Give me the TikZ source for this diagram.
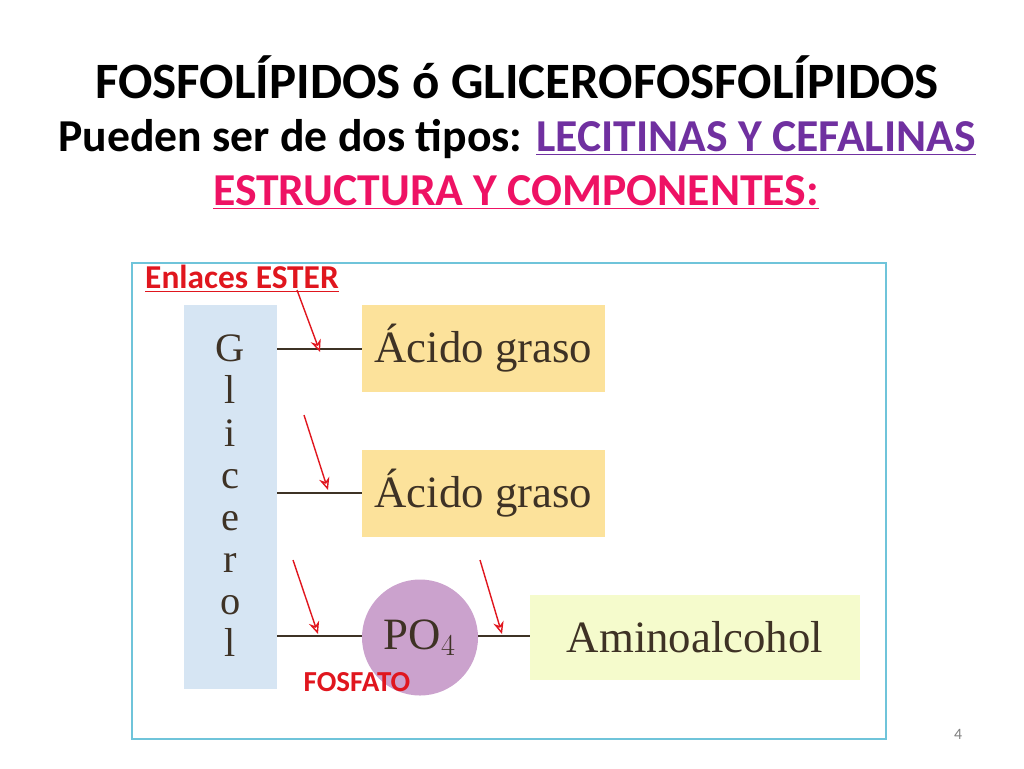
\documentclass[tikz,border=0pt]{standalone}
\usepackage{fontspec}
\setmainfont{Carlito}
\newfontfamily\serifdiag{Liberation Serif}
\usetikzlibrary{arrows.meta}
\definecolor{titlepurple}{HTML}{7030A0}
\definecolor{titlepink}{HTML}{EE1264}
\definecolor{framecyan}{HTML}{6FC4DA}
\definecolor{glicblue}{HTML}{D6E5F3}
\definecolor{acidorange}{HTML}{FCE29B}
\definecolor{fosfviolet}{HTML}{CBA2CD}
\definecolor{aminoyellow}{HTML}{F5FBCC}
\definecolor{txtbrown}{HTML}{3E3225}
\definecolor{arrowred}{HTML}{E0161E}
\begin{document}
\begin{tikzpicture}[x=0.02cm,y=-0.02cm]
                \useasboundingbox (0,0) rectangle (1024,768);
                % titulos
                \begin{scope}[every node/.style={font=\bfseries\fontsize{26}{30}\selectfont,inner sep=0pt}]
                    \node[font=\bfseries\fontsize{29}{34}\selectfont] (T1) at (517,77) {FOSFOLÍPIDOS ó GLICEROFOSFOLÍPIDOS};
                    \node (T2) at (517,139) {Pueden ser de dos tipos: \textcolor{titlepurple}{\underline{LECITINAS Y CEFALINAS}}};
                    \node[text=titlepink] (T3) at (516,192) {\underline{ESTRUCTURA Y COMPONENTES:}};
                \end{scope}

                \draw[framecyan, thick] (132,263) rectangle (886,739);

                \begin{scope}[every node/.style={inner sep=0pt,text=txtbrown,font=\serifdiag\fontsize{25.5}{30}\selectfont}]
                    \node[fill=glicblue, minimum width=93*0.02cm, minimum height=384*0.02cm] (G) at (230.5,497) {};
                    \node[fill=acidorange, minimum width=243*0.02cm, minimum height=87*0.02cm] (A1) at (483.5,348.5) {Ácido graso};
                    \node[fill=acidorange, minimum width=243*0.02cm, minimum height=87*0.02cm] (A2) at (483.5,493) {Ácido graso};
                    \node[fill=fosfviolet, circle, minimum size=116*0.02cm] (P) at (420,637.5) {PO$_4$};
                    \node[fill=aminoyellow, minimum width=330*0.02cm, minimum height=85*0.02cm] (N) at (695,637.5) {Aminoalcohol};
                    % letras de glicerol
                    \node[align=center, font=\serifdiag\fontsize{23}{24}\selectfont] (Gtxt) at (230.5,496) {G\\l\\i\\c\\e\\r\\o\\l};
                \end{scope}

                \coordinate (g1) at (277,349);
                \coordinate (g2) at (277,493);
                \coordinate (g3) at (277,636);

                \begin{scope}[every edge/.style={draw=txtbrown, line width=1.2pt}]
                    \path [-] (g1) edge (A1.west |- g1);
                    \path [-] (g2) edge (A2.west |- g2);
                    \path [-] (g3) edge (P.west |- g3);
                    \path [-] (P.east |- g3) edge (N.west |- g3);
                \end{scope}

                \begin{scope}[every node/.style={text=arrowred,inner sep=0pt}]
                    \node[font=\bfseries\fontsize{19}{22}\selectfont] (E) at (242,279) {\underline{Enlaces ESTER}};
                    \node[font=\bfseries\fontsize{16.5}{19}\selectfont] (F) at (357,682) {FOSFATO};
                \end{scope}

                \coordinate (e1) at (320,352);
                \coordinate (e2) at (328,490);
                \coordinate (e3) at (318,634);
                \coordinate (e4) at (502,634);
                \begin{scope}[every edge/.style={draw=arrowred, line width=0.8pt, -{Stealth[length=7pt,width=6pt,open]}}]
                    \path (297,290) edge (e1);
                    \path (304,415) edge (e2);
                    \path (293,560) edge (e3);
                    \path (480,560) edge (e4);
                \end{scope}

                \node[text=gray, font=\fontsize{9}{11}\selectfont] (num) at (958,734) {4};
            \end{tikzpicture}
\end{document}
